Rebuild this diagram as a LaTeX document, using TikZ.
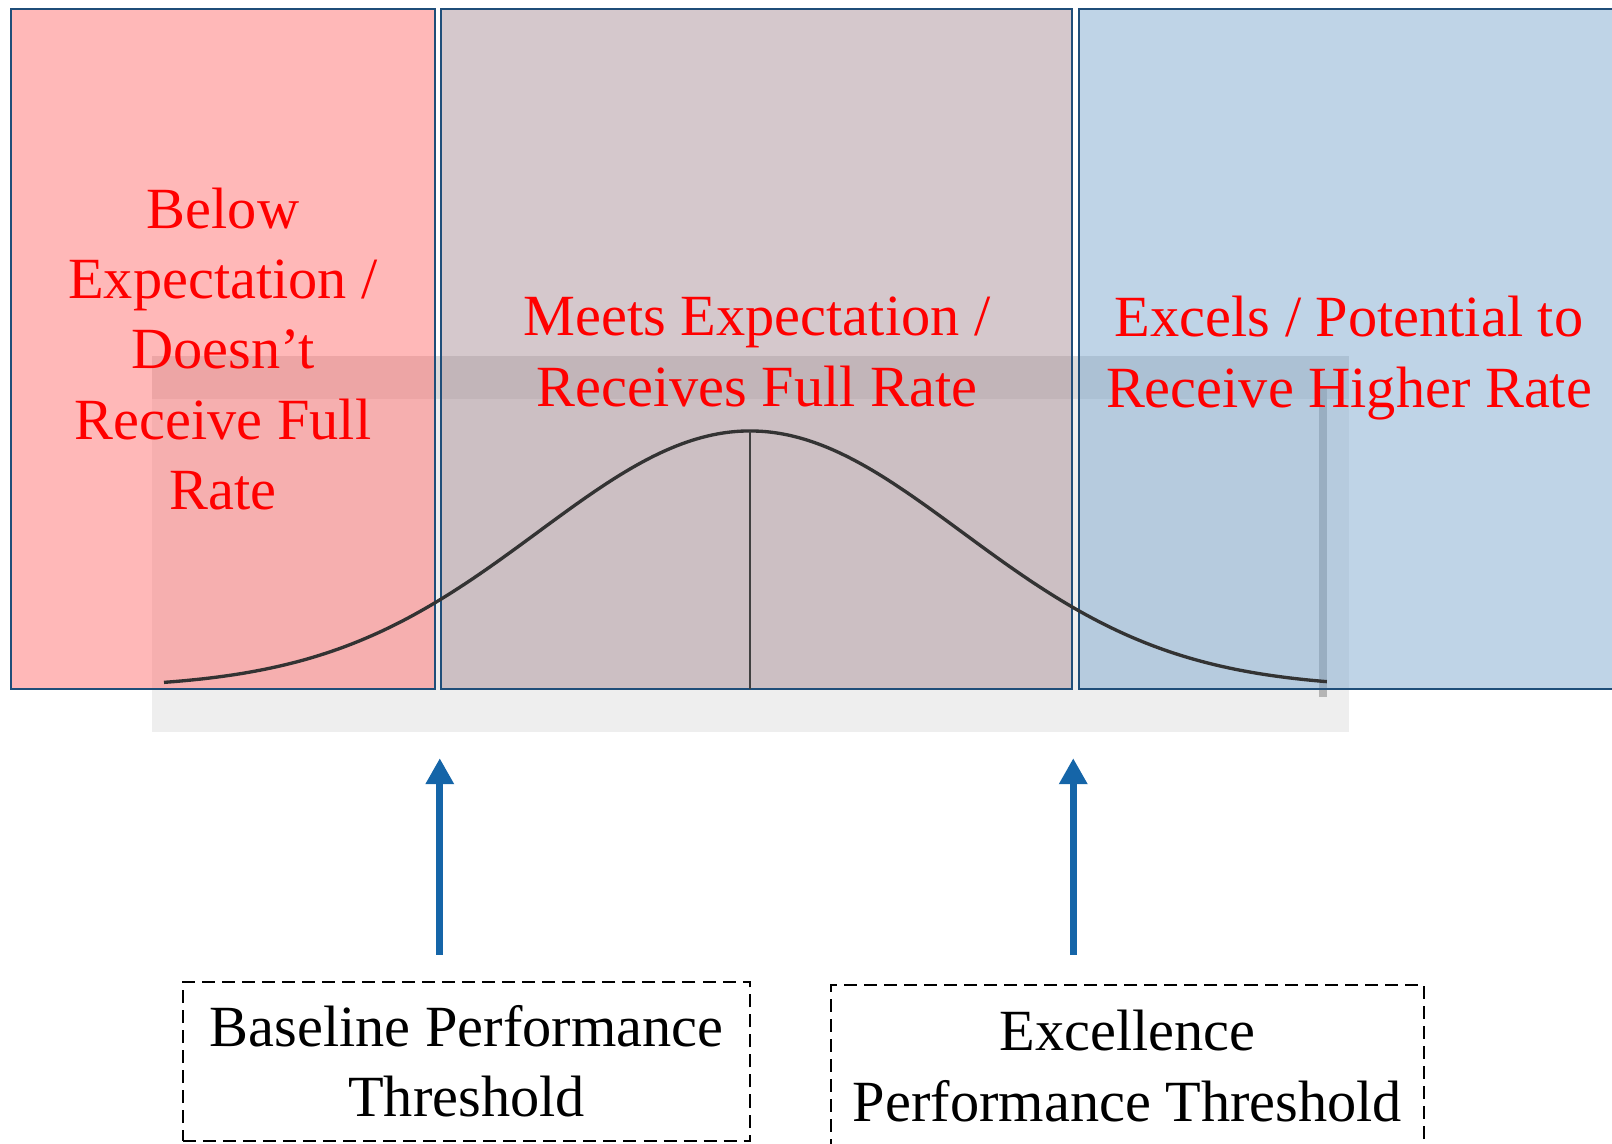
\documentclass[tikz,border=0pt]{standalone}
\usepackage{fontspec}
\setmainfont{Liberation Serif}
\usetikzlibrary{arrows.meta,positioning,calc}
\definecolor{zoneborder}{RGB}{31,78,121}
\definecolor{belowred}{RGB}{255,113,113}
\definecolor{meetsmauve}{RGB}{171,145,153}
\definecolor{excelblue}{RGB}{127,169,207}
\definecolor{arrowblue}{RGB}{21,101,168}
\definecolor{plotgrey}{RGB}{238,238,238}
\definecolor{bandgrey}{RGB}{219,219,219}
\definecolor{bargrey}{RGB}{180,180,180}

\tikzset{
  zonebox/.style={rectangle, draw=zoneborder, line width=0.7pt, fill opacity=0.5, minimum height=6.8cm, inner sep=0pt},
  zonetext/.style={text=red, align=center, font=\fontsize{16.6pt}{20pt}\selectfont},
  threshbox/.style={rectangle, draw, dash pattern=on 3.7pt off 2pt, line width=0.6pt, align=center, inner sep=0pt, font=\fontsize{16.6pt}{20pt}\selectfont},
  risearrow/.style={-{Triangle[length=0.26cm, width=0.27cm]}, draw=arrowblue, line width=2.1pt}
}

\begin{document}
\begin{tikzpicture}
    \useasboundingbox (0,0) rectangle (16.12,11.44);

    % Bell curve picture behind the zones
    \fill[plotgrey] (1.52,4.12) rectangle (13.49,7.88);
    \fill[bandgrey] (1.52,7.45) rectangle (13.49,7.88);
    \fill[bargrey] (13.19,4.47) rectangle (13.27,7.55);

    % Zones
    \node[zonebox, fill=belowred, minimum width=4.24cm] (low) at (2.23,7.95) {};
    \node[zonebox, fill=meetsmauve, minimum width=6.31cm] (mid) at (7.565,7.95) {};
    \node[zonebox, fill=excelblue, minimum width=5.40cm] (high) at (13.49,7.95) {};

    % Curve and mean line
    \draw[black!80, line width=0.95pt, smooth, samples=120, domain=1.64:13.27]
        plot (\x, {4.56+2.57*exp(((\x-7.5)^2)/(-8.99))});
    \draw[black!75, line width=0.8pt] (7.5,7.13) -- (7.5,4.55);

    % Zone labels
    \node[zonetext] (lowlbl) at (2.23,7.95) {Below\\Expectation /\\Doesn’t\\Receive Full\\Rate};
    \node[zonetext] (midlbl) at (7.57,7.92) {Meets Expectation /\\Receives Full Rate};
    \node[zonetext] (highlbl) at (13.49,7.86) {Excels / Potential to\\Receive Higher Rate};

    % Thresholds
    \node[threshbox, minimum width=5.675cm, minimum height=1.59cm] (base) at (4.665,0.825) {Baseline Performance\\Threshold};
    \node[threshbox, minimum width=5.93cm, minimum height=1.62cm] (excel) at (11.275,0.78) {Excellence\\Performance Threshold};

    \draw[risearrow] ($(base.north -| mid.west)+(0,0.26)$) -- ($(mid.south west)+(0,-0.68)$);
    \draw[risearrow] ($(excel.north -| mid.east)+(0,0.29)$) -- ($(mid.south east)+(0,-0.68)$);
\end{tikzpicture}
\end{document}
